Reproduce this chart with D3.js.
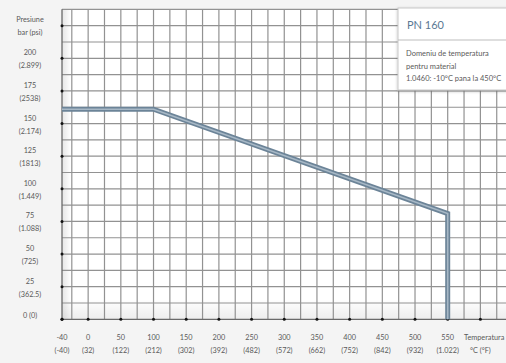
<!DOCTYPE html>
<html><head><meta charset="utf-8">
<script src="https://cdn.jsdelivr.net/npm/d3@7"></script>
<style>html,body{margin:0;padding:0;background:#f4f4f4;overflow:hidden}svg{display:block}</style>
</head><body>
<svg id="c" width="506" height="363"></svg>
<script>
// ---- data ----
const tempTicksC = [-40, 0, 50, 100, 150, 200, 250, 300, 350, 400, 450, 500, 550];
const tempTicksF = ["(-40)", "(32)", "(122)", "(212)", "(302)", "(392)", "(482)", "(572)", "(662)", "(752)", "(842)", "(932)", "(1.022)"];
const pressTicksBar = [25, 50, 75, 100, 125, 150, 175, 200];
const pressTicksPsi = ["(362.5)", "(725)", "(1.088)", "(1.449)", "(1813)", "(2.174)", "(2538)", "(2.899)"];
const seriesTemp = [-40, 100, 550, 550];
const seriesPress = [161, 161, 81, 0];
const legendTitle = "PN 160";
const legendLines = ["Domeniu de temperatura", "pentru material", "1.0460: -10°C pana la 450°C"];

const svg = d3.select("#c");
const x = d3.scaleLinear().domain([-40, 550]).range([62, 447.7]);
const y = d3.scaleLinear().domain([0, 200]).range([319.3, 58.3]);
const font = "Lato, 'Open Sans', sans-serif";

const defs = svg.append("defs");
const gl = defs.append("linearGradient").attr("id", "gl").attr("x1", 0).attr("x2", 1).attr("y1", 0).attr("y2", 0);
gl.append("stop").attr("offset", 0).attr("stop-color", "#000").attr("stop-opacity", 0.10);
gl.append("stop").attr("offset", 1).attr("stop-color", "#000").attr("stop-opacity", 0);
const gb = defs.append("linearGradient").attr("id", "gb").attr("x1", 0).attr("x2", 0).attr("y1", 0).attr("y2", 1);
gb.append("stop").attr("offset", 0).attr("stop-color", "#000").attr("stop-opacity", 0);
gb.append("stop").attr("offset", 1).attr("stop-color", "#000").attr("stop-opacity", 0.07);
const sh = defs.append("filter").attr("id", "sh").attr("x", -0.2).attr("y", -0.2).attr("width", 1.5).attr("height", 1.5);
sh.append("feDropShadow").attr("dx", 0).attr("dy", 1).attr("stdDeviation", 1.5).attr("flood-opacity", 0.25);

// plot background
const pTop = y(237.5), pBottom = y(0), pLeft = x(-40), pRight = 506;
svg.append("rect").attr("x", pLeft).attr("y", pTop).attr("width", pRight - pLeft).attr("height", pBottom - pTop).attr("fill", "#fff");
svg.append("rect").attr("x", pLeft).attr("y", pTop).attr("width", 9).attr("height", pBottom - pTop).attr("fill", "url(#gl)");
svg.append("rect").attr("x", pLeft).attr("y", pBottom - 20).attr("width", pRight - pLeft).attr("height", 20).attr("fill", "url(#gb)");

// grid
const vGrid = d3.range(-25, 626, 25);
svg.append("g").selectAll("line").data(vGrid).join("line")
  .attr("x1", d => x(d)).attr("x2", d => x(d)).attr("y1", pTop).attr("y2", pBottom)
  .attr("stroke", "#929292").attr("stroke-width", 1.2);
const hGrid = d3.range(12.5, 237.6, 12.5);
svg.append("g").selectAll("line").data(hGrid).join("line")
  .attr("x1", pLeft).attr("x2", pRight).attr("y1", d => y(d)).attr("y2", d => y(d))
  .attr("stroke", "#929292").attr("stroke-width", 1.2);
// axes lines
svg.append("line").attr("x1", pLeft).attr("x2", pLeft).attr("y1", pTop).attr("y2", pBottom).attr("stroke", "#6a6a6a").attr("stroke-width", 1.3);
svg.append("line").attr("x1", pLeft).attr("x2", pRight).attr("y1", pBottom).attr("y2", pBottom).attr("stroke", "#6a6a6a").attr("stroke-width", 1.3);

// tick dots
svg.append("g").selectAll("circle").data([0].concat(pressTicksBar, [225])).join("circle")
  .attr("cx", pLeft).attr("cy", d => y(d)).attr("r", 1.5).attr("fill", "#111");
svg.append("g").selectAll("circle").data(tempTicksC.concat([600])).join("circle")
  .attr("cx", d => x(d)).attr("cy", pBottom).attr("r", 1.5).attr("fill", "#111");

// series line
const line = d3.line().x(d => x(d[0])).y(d => y(d[1]));
const pts = seriesTemp.map((t, i) => [t, seriesPress[i]]);
svg.append("path").attr("d", line(pts)).attr("fill", "none").attr("stroke", "#6c8498").attr("stroke-width", 5).attr("stroke-linejoin", "miter");
svg.append("path").attr("d", line(pts)).attr("fill", "none").attr("stroke", "#a7b8c6").attr("stroke-width", 1.6).attr("stroke-linejoin", "miter");

// y labels
const yl = svg.append("g").attr("font-family", font).attr("font-size", 7.3).attr("fill", "#5a5a5a").attr("text-anchor", "middle");
yl.append("text").attr("x", 30).attr("y", 22).text("Presiune");
yl.append("text").attr("x", 30).attr("y", 35).text("bar (psi)");
pressTicksBar.forEach((p, i) => {
  yl.append("text").attr("x", 30).attr("y", y(p) - 3).text(p);
  yl.append("text").attr("x", 30).attr("y", y(p) + 10).text(pressTicksPsi[i]);
});
yl.append("text").attr("x", 30).attr("y", y(0) - 1).text("0 (0)");

// x labels
const xl = svg.append("g").attr("font-family", font).attr("font-size", 7.3).attr("fill", "#5a5a5a").attr("text-anchor", "middle");
tempTicksC.forEach((t, i) => {
  xl.append("text").attr("x", x(t)).attr("y", 340).text(t);
  xl.append("text").attr("x", x(t)).attr("y", 353).text(tempTicksF[i]);
});
xl.append("text").attr("x", 464).attr("y", 340).attr("text-anchor", "start").text("Temperatura");
xl.append("text").attr("x", x(600)).attr("y", 353).text("°C (°F)");

// legend
const lg = svg.append("g");
lg.append("rect").attr("x", 398).attr("y", 8).attr("width", 120).attr("height", 82).attr("fill", "#fff").attr("stroke", "#c8c8c8").attr("filter", "url(#sh)");
lg.append("text").attr("x", 407).attr("y", 29).attr("font-family", font).attr("font-size", 11).attr("fill", "#5a7894").text(legendTitle);
lg.append("line").attr("x1", 398).attr("x2", 506).attr("y1", 40).attr("y2", 40).attr("stroke", "#bdbdbd");
lg.selectAll("text.l").data(legendLines).join("text").attr("class", "l")
  .attr("x", 406).attr("y", (d, i) => 56 + i * 12.5)
  .attr("font-family", font).attr("font-size", 7.5).attr("fill", "#5a5a5a").text(d => d);
</script>
</body></html>
